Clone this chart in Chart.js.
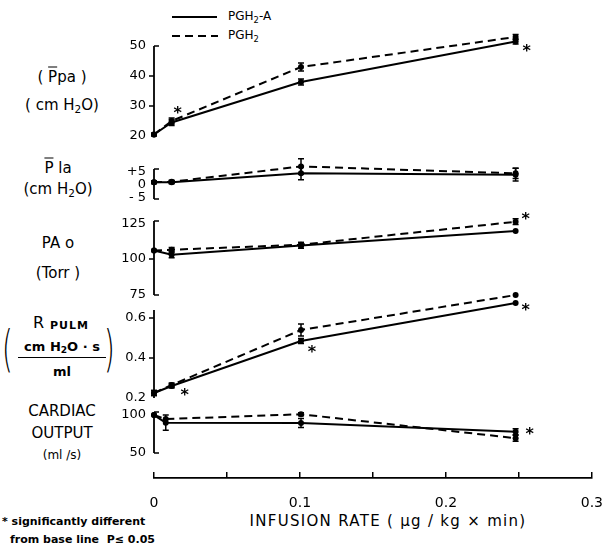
<!DOCTYPE html>
<html><head><meta charset="utf-8">
<script src="https://cdn.jsdelivr.net/npm/chart.js@4.4.1/dist/chart.umd.min.js"></script>
<style>
html,body{margin:0;padding:0;background:#fff;overflow:hidden;}
#wrap{position:relative;width:604px;height:548px;overflow:hidden;font-family:"DejaVu Sans",sans-serif;color:#000;}
canvas{position:absolute;left:0;}
.lbl{position:absolute;white-space:nowrap;transform:translate(-50%,-50%);font-size:15px;line-height:1;}
.ov{text-decoration:overline;}
sub{font-size:70%;vertical-align:-0.3em;line-height:0;}
.abs{position:absolute;white-space:nowrap;line-height:1;}
</style></head>
<body><div id="wrap">
<!-- legend -->
<div class="abs" style="left:172px;top:16px;width:45px;border-top:2px solid #000;"></div>
<svg class="abs" style="left:172px;top:34px" width="46" height="4"><line x1="0" y1="2" x2="46" y2="2" stroke="#000" stroke-width="2" stroke-dasharray="8,5"/></svg>
<div class="abs" style="left:228px;top:10px;font-size:12px;">PGH<sub>2</sub>-A</div>
<div class="abs" style="left:228px;top:29px;font-size:12px;">PGH<sub>2</sub></div>
<!-- left labels -->
<div class="lbl" style="left:62px;top:77px">( <span class="ov">P</span>pa )</div>
<div class="lbl" style="left:62px;top:105px">( cm H<sub>2</sub>O)</div>
<div class="lbl" style="left:58px;top:168px"><span class="ov">P</span> la</div>
<div class="lbl" style="left:58px;top:189px">(cm H<sub>2</sub>O)</div>
<div class="lbl" style="left:58px;top:243px">PA o</div>
<div class="lbl" style="left:58px;top:273px">(Torr )</div>
<div class="abs" style="left:33px;top:315px;font-size:16px;">R</div>
<div class="abs" style="left:50px;top:320px;font-size:11px;font-weight:bold;letter-spacing:1px;">PULM</div>
<div class="abs" style="left:2px;top:324px;font-size:50px;transform:scaleX(0.55);transform-origin:left top;font-weight:200;">(</div>
<div class="abs" style="left:104px;top:324px;font-size:50px;transform:scaleX(0.55);transform-origin:left top;font-weight:200;">)</div>
<div class="lbl" style="left:62px;top:346px;font-size:13px;font-weight:bold;">cm H<sub>2</sub>O · s</div>
<div class="abs" style="left:18px;top:357px;width:88px;border-top:1.5px solid #000;"></div>
<div class="lbl" style="left:62px;top:371px;font-size:13px;font-weight:bold;">ml</div>
<div class="lbl" style="left:62px;top:411px">CARDIAC</div>
<div class="lbl" style="left:62px;top:433px">OUTPUT</div>
<div class="lbl" style="left:62px;top:455px;font-size:12px;">(ml /s)</div>
<!-- bottom texts -->
<div class="lbl" style="left:388px;top:521px;font-size:15px;letter-spacing:1.3px;">INFUSION RATE ( μg / kg × min)</div>
<div class="abs" style="left:2px;top:516px;font-size:11px;font-weight:bold;">* significantly different</div>
<div class="abs" style="left:10px;top:534px;font-size:11px;font-weight:bold;">from base line &nbsp;P≤ 0.05</div>
</div>
<script>
// ---- data ----
const doses   = [0, 0.012, 0.1, 0.246];
const coDoses = [0, 0.008, 0.1, 0.246];
const xTickValues = [0, 0.05, 0.1, 0.15, 0.2, 0.25, 0.3];
const xTickLabels = ['0', '0.1', '0.2', '0.3'];

const ppaA    = [20.5, 24.5, 38, 51.5];
const ppaP    = [20.5, 25, 43, 53];
const ppaErrA = [0.4, 1, 1, 0.8];
const ppaErrP = [0.4, 1, 1.3, 0.8];
const ppaTicks = [20, 30, 40, 50];

const plaA    = [1, 1, 4.5, 4];
const plaP    = [1, 1.2, 7.2, 4.5];
const plaErrA = [0.5, 0.6, 2.5, 2.5];
const plaErrP = [0.5, 0.6, 3, 2];
const plaTicks = [-5, 0, 5];

const paoA    = [106, 103, 109.5, 119.5];
const paoP    = [106, 106.5, 110, 126];
const paoErrA = [0, 2, 2, 0];
const paoErrP = [0, 1.5, 1.5, 2];
const paoTicks = [75, 100, 125];

const rA    = [0.225, 0.26, 0.485, 0.675];
const rP    = [0.225, 0.265, 0.54, 0.715];
const rErrA = [0.012, 0.01, 0.012, 0];
const rErrP = [0.012, 0.01, 0.03, 0];
const rTicks = [0.2, 0.4, 0.6];

const coA    = [100, 90, 89.5, 78];
const coP    = [100, 94.7, 101, 69.5];
const coErrA = [0, 10, 6, 4];
const coErrP = [0, 0, 2, 4];
const coTicks = [50, 100];

// ---- layout ----
const FONT = '"DejaVu Sans", sans-serif';
const AXIS_X = 154, RIGHT_X = 595, CW = 620, YW = 44;
const wrap = document.getElementById('wrap');

const errPlugin = {id:'errbars', afterDatasetsDraw(chart){
  const ctx = chart.ctx, ys = chart.scales.y;
  chart.data.datasets.forEach((d, i) => {
    if (!d.errors) return;
    const meta = chart.getDatasetMeta(i);
    ctx.save(); ctx.strokeStyle = '#000'; ctx.lineWidth = 1.5;
    d.errors.forEach((e, j) => {
      if (!e) return;
      const pt = meta.data[j], v = d.data[j].y;
      const y1 = ys.getPixelForValue(v + e), y2 = ys.getPixelForValue(v - e);
      ctx.beginPath();
      ctx.moveTo(pt.x, y1); ctx.lineTo(pt.x, y2);
      ctx.moveTo(pt.x - 3, y1); ctx.lineTo(pt.x + 3, y1);
      ctx.moveTo(pt.x - 3, y2); ctx.lineTo(pt.x + 3, y2);
      ctx.stroke();
    });
    ctx.restore();
  });
}};
const starPlugin = {id:'stars', afterDatasetsDraw(chart, args, opts){
  const list = opts.list || [], ctx = chart.ctx;
  ctx.save(); ctx.fillStyle = '#000'; ctx.font = 'bold 16px ' + FONT;
  ctx.textAlign = 'center'; ctx.textBaseline = 'middle';
  list.forEach(m => {
    const pt = chart.getDatasetMeta(m.s).data[m.i];
    ctx.fillText('*', pt.x + m.dx, pt.y + m.dy + 4);
  });
  ctx.restore();
}};
// axis line drawn over the scale's own pixel mapping, with tick marks like the original
const axisPlugin = {id:'axisline', afterDraw(chart, args, opts){
  const ctx = chart.ctx, ys = chart.scales.y, x = chart.chartArea.left;
  ctx.save(); ctx.strokeStyle = '#000'; ctx.lineWidth = 1.8; ctx.lineCap = 'butt';
  ctx.beginPath();
  ctx.moveTo(x, ys.getPixelForValue(opts.from)); ctx.lineTo(x, ys.getPixelForValue(opts.to));
  ctx.stroke();
  ctx.lineWidth = 1.5; ctx.beginPath();
  (opts.left || []).forEach(v => { const y = ys.getPixelForValue(v); ctx.moveTo(x - 5, y); ctx.lineTo(x, y); });
  (opts.right || []).forEach(v => { const y = ys.getPixelForValue(v); ctx.moveTo(x, y); ctx.lineTo(x + 5, y); });
  ctx.stroke(); ctx.restore();
}};

function ds(xs, ys, errs, dash, label){
  return {label, data: xs.map((x, i) => ({x, y: ys[i]})), errors: errs,
    borderColor:'#000', borderWidth:2, borderDash:dash, pointRadius:3,
    pointBackgroundColor:'#000', pointBorderColor:'#000', pointBorderWidth:0,
    clip:false, tension:0, fill:false};
}

function panel(cfg){
  const c = document.createElement('canvas');
  const padT = 20, padB = 14;
  const H = cfg.bot - cfg.top + padT + padB;
  c.width = CW; c.height = H; c.style.top = (cfg.top - padT) + 'px';
  wrap.appendChild(c);
  new Chart(c, {
    type:'line',
    data:{datasets:[ds(cfg.x, cfg.a, cfg.ea, [], 'PGH2-A'), ds(cfg.x, cfg.p, cfg.ep, [8,5], 'PGH2')]},
    options:{
      responsive:false, animation:false, devicePixelRatio:1,
      layout:{padding:{top:padT, bottom:padB, left:AXIS_X - YW, right:CW - RIGHT_X}},
      plugins:{legend:{display:false}, tooltip:{enabled:false}, stars:{list:cfg.stars},
        axisline:{from:cfg.axis[0], to:cfg.axis[1], left:cfg.lt, right:cfg.rt}},
      scales:{
        x:{type:'linear', display:false, min:0, max:0.3},
        y:{type:'linear', min:cfg.min, max:cfg.max,
          afterFit(s){ s.width = YW; },
          afterBuildTicks(s){ s.ticks = cfg.ticks.map(v => ({value:v})); },
          ticks:{color:'#000', font:{family:FONT, size:13}, padding:3, autoSkip:false,
            callback: cfg.fmt || (v => String(v))},
          grid:{drawOnChartArea:false, drawTicks:true, tickLength:5, color:'rgba(0,0,0,0)'},
          border:{display:false}
        }
      }
    },
    plugins:[errPlugin, starPlugin, axisPlugin]
  });
}

panel({top:31, bot:136, min:20, max:55, axis:[20,50], lt:[30,40], rt:[50],
  x:doses, a:ppaA, p:ppaP, ea:ppaErrA, ep:ppaErrP, ticks:ppaTicks,
  stars:[{s:1,i:1,dx:6,dy:-11},{s:0,i:3,dx:11,dy:6}]});
panel({top:164, bot:199, min:-5.5, max:8.15, axis:[-5.5,6.2], lt:[], rt:[6.2,-5.5],
  x:doses, a:plaA, p:plaP, ea:plaErrA, ep:plaErrP, ticks:plaTicks,
  fmt: v => v > 0 ? '+' + v : (v < 0 ? '- ' + (-v) : '0'), stars:[]});
panel({top:219, bot:295, min:75, max:127.9, axis:[75,126.5], lt:[100], rt:[126.5,75],
  x:doses, a:paoA, p:paoP, ea:paoErrA, ep:paoErrP, ticks:paoTicks,
  stars:[{s:1,i:3,dx:10,dy:-6}]});
panel({top:288, bot:398, min:0.2, max:0.75, axis:[0.2,0.64], lt:[0.4,0.6], rt:[],
  x:doses, a:rA, p:rP, ea:rErrA, ep:rErrP, ticks:rTicks,
  fmt: v => v.toFixed(1),
  stars:[{s:0,i:1,dx:13,dy:6},{s:0,i:2,dx:11,dy:8},{s:0,i:3,dx:10,dy:4}]});
panel({top:412, bot:453, min:50, max:104, axis:[50,104], lt:[], rt:[104,50],
  x:coDoses, a:coA, p:coP, ea:coErrA, ep:coErrP, ticks:coTicks,
  stars:[{s:0,i:3,dx:14,dy:-1}]});

// x axis
(function(){
  const c = document.createElement('canvas');
  c.width = CW; c.height = 100; c.style.top = '460px';
  wrap.appendChild(c);
  new Chart(c, {
    type:'line', data:{datasets:[]},
    options:{
      responsive:false, animation:false, devicePixelRatio:1,
      layout:{padding:{top:12, bottom:42, left:AXIS_X, right:CW - RIGHT_X}},
      plugins:{legend:{display:false}, tooltip:{enabled:false}},
      scales:{
        x:{type:'linear', min:0, max:0.3,
          afterFit(s){ s.height = 40; },
          afterBuildTicks(s){ s.ticks = xTickValues.map(v => ({value:v})); },
          ticks:{color:'#000', font:{family:FONT, size:14}, padding:17, maxRotation:0, autoSkip:false,
            callback: v => { const k = Math.round(v * 20); return k % 2 === 0 ? xTickLabels[k / 2] : ''; }},
          grid:{drawOnChartArea:true, drawTicks:false, color:'#000', lineWidth:1.5},
          border:{display:true, color:'#000', width:1.8}
        },
        y:{display:false, min:0, max:1}
      }
    }
  });
})();
</script>
</body></html>
